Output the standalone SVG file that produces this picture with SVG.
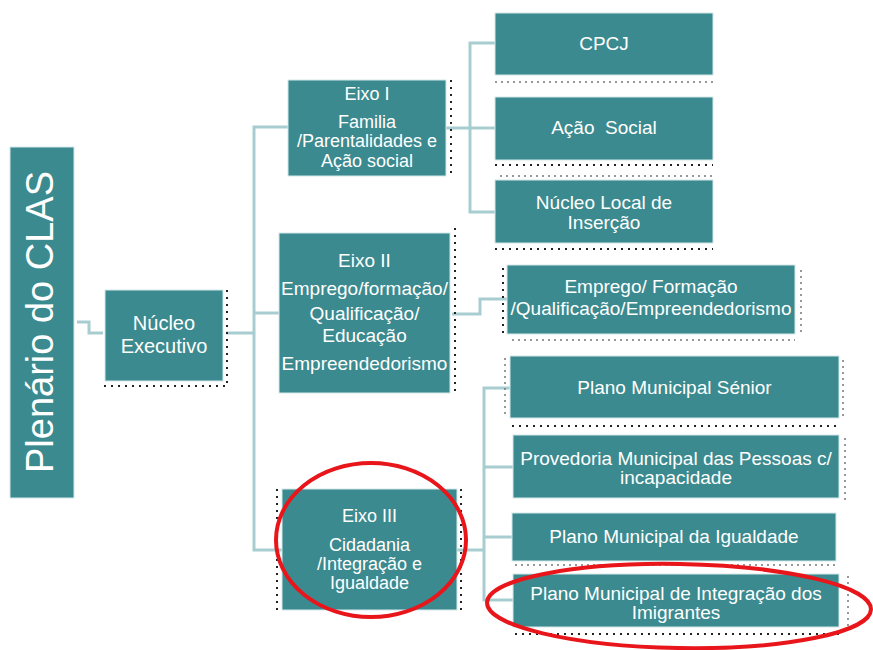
<svg xmlns="http://www.w3.org/2000/svg" width="873" height="650" viewBox="0 0 873 650">
<style>
.box{fill:#3b8a8f;stroke:#d6e8ea;stroke-width:1}
.t{fill:#ffffff;font-family:"Liberation Sans",Arial,sans-serif;font-size:19px;text-anchor:middle}
.con{fill:none;stroke:#a8cdd1;stroke-width:3}
.sh{fill:none;stroke:#222;stroke-width:2;stroke-dasharray:2 5}
.shl{fill:none;stroke:#777;stroke-width:1.5;stroke-dasharray:2 4}
.ring{fill:none;stroke:#e8161b;stroke-width:4}
</style>
<rect width="873" height="650" fill="#ffffff"/>
<g id="connectors">
<polyline class="con" points="77,322 89,322 89,333 103,333"/>
<polyline class="con" points="226,333 254,333"/>
<polyline class="con" points="288,127 254,127 254,550 282,550"/>
<polyline class="con" points="254,313 279,313"/>
<polyline class="con" points="446,128 495,128"/>
<polyline class="con" points="495,43 470,43 470,212 495,212"/>
<polyline class="con" points="452,314 480,314 480,299 507,299"/>
<polyline class="con" points="457,550 484,550"/>
<polyline class="con" points="510,388 484,388 484,600 513,600"/>
<polyline class="con" points="484,467 513,467"/>
<polyline class="con" points="484,537 512,537"/>
</g>
<g id="plenario">
<rect class="box" x="10" y="147" width="64" height="351"/>
<text class="t" style="font-size:38px" transform="translate(53,322) rotate(-90)">Plenário do CLAS</text>
</g>
<g id="nucleo-executivo">
<polyline class="sh" points="227,290 227,386 100,386"/>
<rect class="box" x="105" y="290" width="118" height="91"/>
<text class="t" style="font-size:20px" x="164" y="330">Núcleo</text>
<text class="t" style="font-size:20px" x="164" y="353">Executivo</text>
</g>
<g id="eixo1">
<polyline class="sh" points="451,80 451,178"/>
<rect class="box" x="288" y="80" width="158" height="96"/>
<text class="t" style="font-size:18px" x="367" y="100">Eixo I</text>
<text class="t" style="font-size:18px" x="367" y="128">Familia</text>
<text class="t" style="font-size:18px" x="367" y="147">/Parentalidades e</text>
<text class="t" style="font-size:18px" x="367" y="167">Ação social</text>
</g>
<g id="cpcj">
<polyline class="shl" points="495,82 713,82"/>
<rect class="box" x="495" y="13" width="218" height="62"/>
<text class="t" x="604" y="50">CPCJ</text>
</g>
<g id="acao-social">
<polyline class="sh" points="495,165 713,165"/>
<polyline class="shl" points="500,176 713,176"/>
<rect class="box" x="495" y="97" width="218" height="63"/>
<text class="t" x="604" y="134" style="white-space:pre">Ação  Social</text>
</g>
<g id="nucleo-local">
<polyline class="sh" points="495,249 713,249"/>
<rect class="box" x="495" y="180" width="218" height="63"/>
<text class="t" x="604" y="209">Núcleo Local de</text>
<text class="t" x="604" y="229">Inserção</text>
</g>
<g id="eixo2">
<polyline class="sh" points="455,228 455,396"/>
<rect class="box" x="279" y="233" width="171" height="160"/>
<text class="t" x="364.5" y="267">Eixo II</text>
<text class="t" x="364.5" y="295">Emprego/formação/</text>
<text class="t" x="364.5" y="320">Qualificação/</text>
<text class="t" x="364.5" y="342">Educação</text>
<text class="t" x="364.5" y="370">Empreendedorismo</text>
</g>
<g id="emprego">
<polyline class="sh" points="503,268 503,334"/>
<polyline class="shl" points="801,270 801,334"/>
<polyline class="shl" points="512,340 795,340"/>
<rect class="box" x="507" y="265" width="288" height="69"/>
<text class="t" x="651" y="293">Emprego/ Formação</text>
<text class="t" x="651" y="315">/Qualificação/Empreendedorismo</text>
</g>
<g id="plano-senior">
<polyline class="shl" points="505,358 505,418"/>
<polyline class="shl" points="843,360 843,420"/>
<polyline class="sh" points="512,426 839,426"/>
<rect class="box" x="510" y="356" width="329" height="62"/>
<text class="t" x="674.5" y="394">Plano Municipal Sénior</text>
</g>
<g id="provedoria">
<polyline class="shl" points="845,438 845,500"/>
<rect class="box" x="513" y="435" width="326" height="63"/>
<text class="t" x="676" y="465">Provedoria Municipal das Pessoas c/</text>
<text class="t" x="676" y="484">incapacidade</text>
</g>
<g id="igualdade">
<polyline class="shl" points="515,565 836,565"/>
<rect class="box" x="512" y="513" width="324" height="48"/>
<text class="t" x="674" y="543">Plano Municipal da Igualdade</text>
</g>
<g id="imigrantes">
<polyline class="shl" points="848,576 848,626"/>
<polyline class="sh" points="515,634 839,634"/>
<rect class="box" x="513" y="574" width="326" height="53"/>
<text class="t" x="676" y="600">Plano Municipal de Integração dos</text>
<text class="t" x="676" y="619">Imigrantes</text>
</g>
<g id="eixo3">
<polyline class="sh" points="277,489 277,612"/>
<polyline class="sh" points="461,489 461,612"/>
<rect class="box" x="282" y="489" width="175" height="121"/>
<text class="t" style="font-size:18px" x="369.5" y="522">Eixo III</text>
<text class="t" style="font-size:18px" x="369.5" y="551">Cidadania</text>
<text class="t" style="font-size:18px" x="369.5" y="570">/Integração e</text>
<text class="t" style="font-size:18px" x="369.5" y="589">Igualdade</text>
</g>
<g id="highlights">
<ellipse class="ring" cx="371" cy="540" rx="95" ry="77"/>
<ellipse class="ring" cx="679" cy="606" rx="192" ry="42" transform="rotate(1 679 606)"/>
</g>
</svg>
